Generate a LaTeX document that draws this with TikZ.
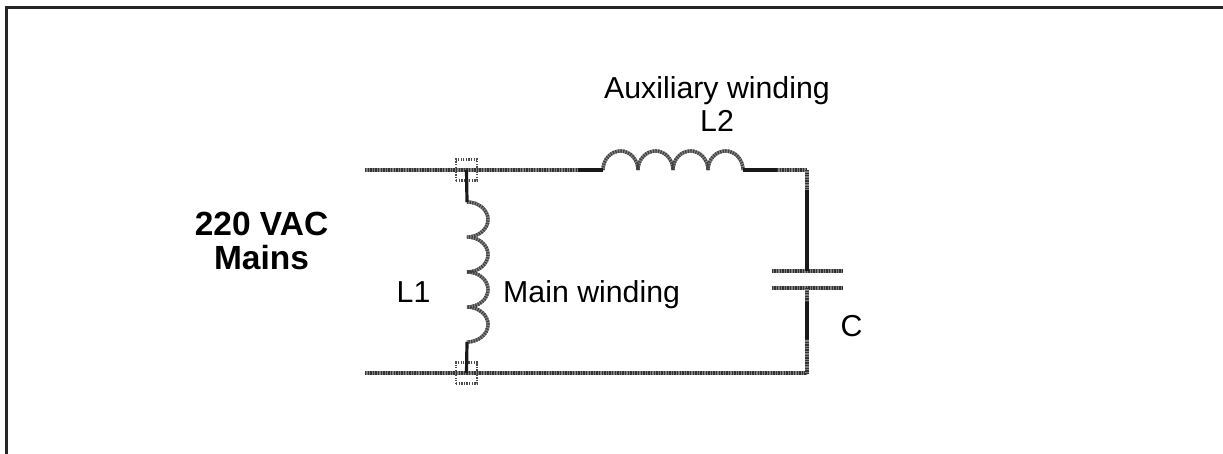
\documentclass[tikz,border=0pt]{standalone}
\usepackage{fontspec}
\setmainfont{Liberation Sans}
\usetikzlibrary{positioning, calc}
\tikzset{%
    wiresty/.style={
        line width=3.2pt,
        draw=black!90,
    },
    hatchsty/.style={
        line width=3.2pt,
        draw=black!80,
        dash pattern=on 1.3pt off 1.3pt,
        preaction={draw=black!50,line width=3.2pt,solid},
    },
    coilsty/.style={
        hatchsty,
        line width=3.4pt,
        draw=black!75,
        preaction={draw=black!45,line width=3.4pt,solid},
    },
    junctionsty/.style={
        draw=black!70,
        dash pattern=on 1.3pt off 1.3pt,
        line width=2.4pt,
        inner sep=0pt,
        minimum width=21pt,
        minimum height=21pt,
    },
    platesty/.style={
        minimum width=70pt,
        minimum height=0pt,
        inner sep=0pt,
    },
    labelsty/.style={
        align=center,
        inner sep=0pt,
        font=\fontsize{30.3}{33}\selectfont,
    },
    mainssty/.style={
        align=center,
        inner sep=0pt,
        font=\fontsize{33.5}{34}\selectfont\bfseries,
    },
}
\begin{document}
\begin{tikzpicture}[x=1pt,y=-1pt]
\useasboundingbox (0,0) rectangle (1223,454);

% outer frame
\draw[line width=3pt,draw=black!85] (6.5,454) -- (6.5,7.5) -- (1223,7.5);

% junctions and wire ends
\node (jtop) [junctionsty] at (466.5,170) {};
\node (jbot) [junctionsty] at (466.5,373) {};
\coordinate (intop) at (365,170);
\coordinate (inbot) at (365,373);
\coordinate (l2a) at (603,170);
\coordinate (l1a) at (467,202);
\coordinate (corntop) at (807,170);
\coordinate (cornbot) at (807,373);

% capacitor plates
\node (platea) [platesty] at (807,271) {};
\node (plateb) [platesty] at (807,288) {};
\draw[hatchsty] (platea.west) -- (platea.east);
\draw[hatchsty] (plateb.west) -- (plateb.east);

% windings
\draw[coilsty] (l2a) arc[start angle=180,end angle=0,x radius=17.5pt,y radius=19pt]
    arc[start angle=180,end angle=0,x radius=17.5pt,y radius=19pt]
    arc[start angle=180,end angle=0,x radius=17.5pt,y radius=19pt]
    arc[start angle=180,end angle=0,x radius=17.5pt,y radius=19pt] coordinate (l2b);
\draw[coilsty] (l1a) arc[start angle=90,end angle=-90,x radius=21pt,y radius=17.5pt]
    arc[start angle=90,end angle=-90,x radius=21pt,y radius=17.5pt]
    arc[start angle=90,end angle=-90,x radius=21pt,y radius=17.5pt]
    arc[start angle=90,end angle=-90,x radius=21pt,y radius=17.5pt] coordinate (l1b);

% wires
\draw[hatchsty] (intop) -- (l2a);
\draw[hatchsty] (inbot) -- (cornbot);
\draw[wiresty] (l2a) ++(-25,0) -- (l2a);
\draw[wiresty] (jtop.center) -- (l1a);
\draw[wiresty] (l1b) -- (jbot.center);
\draw[wiresty] (l2b) -- ++(34,0) coordinate (l2c);
\draw[hatchsty] (l2c) -- (corntop);
\draw[hatchsty] (corntop) -- ++(0,20) coordinate (capa);
\draw[wiresty] (capa) -- (platea.center);
\draw[hatchsty] (plateb.center) -- ++(0,14) coordinate (capb);
\draw[wiresty] (capb) -- ++(0,37) coordinate (capc);
\draw[hatchsty] (capc) -- (cornbot);

% labels
\node (mains) [mainssty] at (261.5,241) {220 VAC\\Mains};
\node (aux) [labelsty] at (717,104) {Auxiliary winding\\L2};
\node (lone) [labelsty] at (413.5,292) {L1};
\node (main) [labelsty,anchor=base west,xshift=36pt] at (l1a|-lone.base) {Main winding};
\node (cap) [labelsty] at (851.5,326) {C};

\end{tikzpicture}
\end{document}
